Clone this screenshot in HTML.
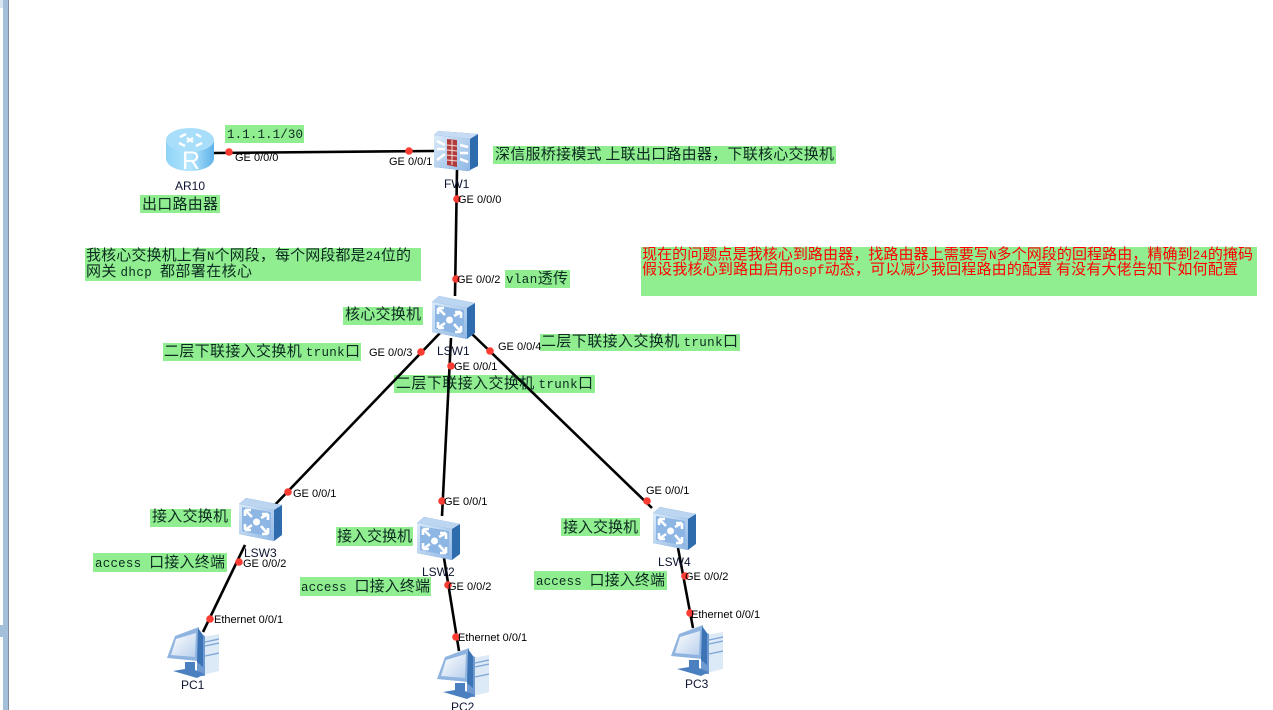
<!DOCTYPE html>
<html><head><meta charset="utf-8"><style>
html,body{margin:0;padding:0;background:#fff;width:1273px;height:710px;overflow:hidden}
svg{display:block}
.n{font:12px "Liberation Sans",sans-serif;fill:#0c1430}
.p{font:11px "Liberation Sans",sans-serif;fill:#000}
.t{font-family:"WenQuanYi Zen Hei","Noto Sans CJK SC",sans-serif;font-size:15px;fill:#0c2a20}
.t tspan.m{font-family:"Liberation Mono",monospace;font-size:12.5px}
.r{fill:#f00}
.g{fill:#90ee90}
.l{stroke:#000;stroke-width:2.600;fill:none}
.d{fill:#fa3c32}
</style></head><body>
<svg width="1273" height="710" viewBox="0 0 1273 710" xmlns="http://www.w3.org/2000/svg">
<defs>
<linearGradient id="sf" x1="0" y1="0" x2="1" y2="1"><stop offset="0" stop-color="#dcebfa"/><stop offset="1" stop-color="#8fb7e4"/></linearGradient>
<linearGradient id="rb" x1="0" y1="0" x2="1" y2="0"><stop offset="0" stop-color="#8ed4f8"/><stop offset=".5" stop-color="#b5e6fd"/><stop offset="1" stop-color="#5fb2ea"/></linearGradient>
<linearGradient id="sc" x1="0" y1="0" x2="1" y2="1"><stop offset="0" stop-color="#ffffff"/><stop offset="1" stop-color="#b9d0ec"/></linearGradient>
<symbol id="sw" viewBox="0 0 44 44" width="44" height="44">
<path d="M8 1 L44 8 L44 38 L36 44 L1 37 L1 7Z" fill="#2f6cae"/>
<path d="M8 1 L44 8 L36 13 L1 7Z" fill="#bcd6f2"/>
<path d="M1 7 L36 13 L36 44 L1 37Z" fill="url(#sf)"/>
<path d="M4 10 L33 15 L33 40 L4 34Z" fill="#8db6e4"/>
<circle cx="18.500" cy="25" r="3.500" fill="#fff"/>
<path d="M7 13 L14 20 M7 13 h6 M7 13 v6 M30 17 L23 21 M30 17 h-6 M30 17 v6 M7 33 L14 28 M7 33 h6 M7 33 v-6 M30 37 L23 29 M30 37 h-6 M30 37 v-6" stroke="#fff" stroke-width="2.600" fill="none"/>
</symbol>
<symbol id="rt" viewBox="0 0 48 44" width="48" height="44">
<path d="M0 12 V30 C0 38 11 43 24 43 C37 43 48 38 48 30 V12Z" fill="url(#rb)"/>
<ellipse cx="24" cy="12" rx="24" ry="12" fill="#a9defb"/>
<path d="M14 9 l6 -3 M30 6 l5 3 M13 15 l6 3 M30 18 l6 -3 M21 10 l6 4 M27 10 l-6 4" stroke="#fff" stroke-width="2.400" fill="none"/>
<text x="25" y="41" text-anchor="middle" font-family="Liberation Sans,sans-serif" font-size="25" fill="#fff">R</text>
</symbol>
<symbol id="fw" viewBox="0 0 44 41" width="44" height="41">
<path d="M4 1 L44 4 L44 36 L34 41 L0 37 L0 5Z" fill="#2f6cae"/>
<path d="M4 1 L44 4 L36 9 L0 5Z" fill="#c7dcf4"/>
<path d="M0 5 L36 9 L36 41 L0 37Z" fill="url(#sf)"/>
<path d="M13 9 L23 10 L23 37 L13 35Z" fill="#b33a3a"/>
<path d="M13 15 L23 16 M13 20 L23 21 M13 25 L23 26 M13 30 L23 31 M18 10 V35" stroke="#f2dddd" stroke-width="1"/>
<path d="M3 11 L11 15 M3 19 H11 M3 30 L11 24 M26 15 L34 17 M26 23 H34 M26 29 L34 32" stroke="#fff" stroke-width="2.600"/>
</symbol>
<symbol id="pc" viewBox="0 0 52 51" width="52" height="51">
<path d="M30 11 L52 7 V44 L32 49Z" fill="#dce9f7"/>
<path d="M38 15 L52 12 M38 19 L52 16 M38 29 L52 26" stroke="#7ea6d6" stroke-width="1.400"/>
<path d="M30 5 L38 9 V49 L30 49Z" fill="#6f9ad1"/>
<path d="M8 9 L32 0 L31 34 L0 31Z" fill="#8fb4e0"/>
<path d="M31 1 L36 8 L36 40 L30 35Z" fill="#3c73b5"/>
<path d="M9 12 L29 6 L28 30 L4 28Z" fill="url(#sc)"/>
<path d="M18 35 H28 V43 L38 47 L30 51 L6 44 L18 42Z" fill="#4a80c0"/>
</symbol>
</defs>

<rect x="0" y="0" width="1273" height="710" fill="#fff"/>
<rect x="3" y="0" width="5" height="710" fill="#a3bfd9"/>
<rect x="8" y="0" width="1" height="710" fill="#7e8ea0"/>
<rect x="0" y="0" width="3" height="8" fill="#d9e5f0"/>
<rect x="0" y="625" width="3" height="12" fill="#a3bfd9"/>

<!-- green text boxes -->
<rect class="g" x="225" y="125" width="79" height="18"/>
<rect class="g" x="140" y="195" width="80" height="18"/>
<rect class="g" x="493" y="146" width="343" height="18"/>
<rect class="g" x="85" y="248" width="336" height="33"/>
<rect class="g" x="505" y="270" width="65" height="18"/>
<rect class="g" x="343" y="307" width="80" height="18"/>
<rect class="g" x="163" y="343" width="198" height="18"/>
<rect class="g" x="540" y="334" width="200" height="17"/>
<rect class="g" x="394" y="375" width="201" height="18"/>
<rect class="g" x="641" y="247" width="616" height="49"/>
<rect class="g" x="150" y="509" width="81" height="18"/>
<rect class="g" x="93" y="553" width="134" height="19"/>
<rect class="g" x="336" y="527" width="77" height="19"/>
<rect class="g" x="300" y="577" width="131" height="19"/>
<rect class="g" x="561" y="518" width="79" height="18"/>
<rect class="g" x="534" y="571" width="133" height="19"/>

<!-- connectors -->
<path class="l" d="M214 153 L434 151"/>
<path class="l" d="M457 170 L455 296"/>
<path class="l" d="M440 333 L270 510"/>
<path class="l" d="M451 338 L442 516"/>
<path class="l" d="M471 333 L652 508"/>
<path class="l" d="M245 545 L203 632"/>
<path class="l" d="M444 558 L459 651"/>
<path class="l" d="M678 548 L693 628"/>

<!-- devices -->
<use href="#rt" x="166" y="128"/>
<use href="#fw" x="434" y="130"/>
<use href="#sw" x="431" y="295"/>
<use href="#sw" x="238" y="497"/>
<use href="#sw" x="416" y="516"/>
<use href="#sw" x="652" y="506"/>
<use href="#pc" x="167" y="627"/>
<use href="#pc" x="437" y="648"/>
<use href="#pc" x="671" y="625"/>

<!-- port dots -->
<circle class="d" cx="229" cy="152" r="3.800"/>
<circle class="d" cx="409" cy="151" r="3.800"/>
<circle class="d" cx="457" cy="199" r="3.800"/>
<circle class="d" cx="456" cy="279" r="3.800"/>
<circle class="d" cx="421" cy="352" r="3.800"/>
<circle class="d" cx="451" cy="366" r="3.800"/>
<circle class="d" cx="490" cy="351" r="3.800"/>
<circle class="d" cx="288" cy="492" r="3.800"/>
<circle class="d" cx="442" cy="501" r="3.800"/>
<circle class="d" cx="647" cy="501" r="3.800"/>
<circle class="d" cx="239" cy="562" r="3.800"/>
<circle class="d" cx="448" cy="585" r="3.800"/>
<circle class="d" cx="685" cy="576" r="3.800"/>
<circle class="d" cx="210" cy="619" r="3.800"/>
<circle class="d" cx="456" cy="637" r="3.800"/>
<circle class="d" cx="690" cy="613" r="3.800"/>

<!-- port labels -->
<text class="p" x="235" y="161">GE 0/0/0</text>
<text class="p" x="389" y="165">GE 0/0/1</text>
<text class="p" x="458" y="203">GE 0/0/0</text>
<text class="p" x="457" y="283">GE 0/0/2</text>
<text class="p" x="369" y="356">GE 0/0/3</text>
<text class="p" x="454" y="370">GE 0/0/1</text>
<text class="p" x="498" y="350">GE 0/0/4</text>
<text class="p" x="293" y="497">GE 0/0/1</text>
<text class="p" x="444" y="505">GE 0/0/1</text>
<text class="p" x="646" y="494">GE 0/0/1</text>
<text class="p" x="243" y="567">GE 0/0/2</text>
<text class="p" x="448" y="590">GE 0/0/2</text>
<text class="p" x="685" y="580">GE 0/0/2</text>
<text class="p" x="214" y="623">Ethernet 0/0/1</text>
<text class="p" x="458" y="641">Ethernet 0/0/1</text>
<text class="p" x="691" y="618">Ethernet 0/0/1</text>

<!-- node labels -->
<text class="n" x="175" y="190">AR10</text>
<text class="n" x="444" y="188">FW1</text>
<text class="n" x="437" y="355">LSW1</text>
<text class="n" x="244" y="557">LSW3</text>
<text class="n" x="422" y="576">LSW2</text>
<text class="n" x="658" y="566">LSW4</text>
<text class="n" x="181" y="689">PC1</text>
<text class="n" x="451" y="711">PC2</text>
<text class="n" x="685" y="688">PC3</text>

<!-- annotations -->
<text class="t" x="227" y="138" textLength="76"><tspan class="m">1.1.1.1/30</tspan></text>
<text class="t" x="142" y="209" textLength="76">出口路由器</text>
<text class="t" x="495" y="159" textLength="339">深信服桥接模式 <tspan class="m"> </tspan>上联出口路由器，下联核心交换机</text>
<text class="t" x="86" y="260" textLength="325">我核心交换机上有<tspan class="m">N</tspan>个网段，每个网段都是<tspan class="m">24</tspan>位的</text>
<text class="t" x="86" y="276" textLength="166">网关 <tspan class="m">dhcp </tspan>都部署在核心</text>
<text class="t" x="506" y="283" textLength="62"><tspan class="m">vlan</tspan>透传</text>
<text class="t" x="345" y="319" textLength="76">核心交换机</text>
<text class="t" x="164" y="356" textLength="196">二层下联接入交换机 <tspan class="m">trunk</tspan>口</text>
<text class="t" x="541" y="346" textLength="197">二层下联接入交换机 <tspan class="m">trunk</tspan>口</text>
<text class="t" x="396" y="388" textLength="197">二层下联接入交换机 <tspan class="m">trunk</tspan>口</text>
<text class="t r" x="642" y="259" textLength="611">现在的问题点是我核心到路由器，找路由器上需要写<tspan class="m">N</tspan>多个网段的回程路由，精确到<tspan class="m">24</tspan>的掩码</text>
<text class="t r" x="642" y="274" textLength="596">假设我核心到路由启用<tspan class="m">ospf</tspan>动态，可以减少我回程路由的配置 <tspan class="m"> </tspan>有没有大佬告知下如何配置</text>
<text class="t" x="152" y="521" textLength="76">接入交换机</text>
<text class="t" x="95" y="567" textLength="130"><tspan class="m">access </tspan>口接入终端</text>
<text class="t" x="337" y="541" textLength="75">接入交换机</text>
<text class="t" x="301" y="591" textLength="129"><tspan class="m">access </tspan>口接入终端</text>
<text class="t" x="563" y="532" textLength="75">接入交换机</text>
<text class="t" x="536" y="585" textLength="129"><tspan class="m">access </tspan>口接入终端</text>
</svg>
</body></html>
